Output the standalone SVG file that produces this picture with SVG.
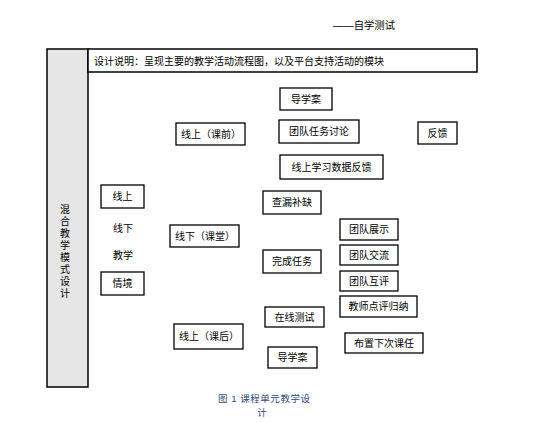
<svg xmlns="http://www.w3.org/2000/svg" width="536" height="422" viewBox="0 0 536 422">
<style>
text{font-family:"Liberation Sans","Noto Sans CJK SC",sans-serif;font-size:10px;fill:#000}
.n rect{fill:#fff;stroke:#000;stroke-width:1.3}
.n text{text-anchor:middle;dominant-baseline:central}
.cap{fill:#2F4A80;font-size:9.5px}
</style>
<rect width="536" height="422" fill="#fff"/>
<text x="333" y="29" font-size="10" textLength="62" lengthAdjust="spacingAndGlyphs">——自学测试</text>
<g id="side">
<rect x="47" y="49" width="41" height="338" fill="#E6E6E6" stroke="#000" stroke-width="1.5"/>
<g font-size="10" text-anchor="middle">
<text x="65" y="213" text-anchor="middle">混</text>
<text x="65" y="225" text-anchor="middle">合</text>
<text x="65" y="237" text-anchor="middle">教</text>
<text x="65" y="249" text-anchor="middle">学</text>
<text x="65" y="261" text-anchor="middle">模</text>
<text x="65" y="273" text-anchor="middle">式</text>
<text x="65" y="285" text-anchor="middle">设</text>
<text x="65" y="297" text-anchor="middle">计</text>
</g>
</g>
<g id="header">
<rect x="88" y="49" width="389" height="23" fill="#fff" stroke="#000" stroke-width="1.5"/>
<text x="94" y="64.5">设计说明：呈现主要的教学活动流程图，以及平台支持活动的模块</text>
</g>
<g id="n1" class="n"><rect x="280" y="88" width="52" height="22"/><text x="306" y="99">导学案</text></g>
<g id="n2" class="n"><rect x="279" y="120" width="80" height="23"/><text x="319" y="131.5">团队任务讨论</text></g>
<g id="n3" class="n"><rect x="418" y="122" width="39" height="22"/><text x="437.5" y="133">反馈</text></g>
<g id="n4" class="n"><rect x="280" y="155" width="103" height="24"/><text x="331.5" y="167">线上学习数据反馈</text></g>
<g id="n5" class="n"><rect x="176" y="123" width="69" height="22"/><text x="211" y="134">线上（课前）</text></g>
<g id="n6" class="n"><rect x="101" y="185" width="43" height="23"/><text x="122.5" y="196.5">线上</text></g>
<g id="t1"><text x="123" y="228" text-anchor="middle" dominant-baseline="central">线下</text></g>
<g id="t2"><text x="123" y="255" text-anchor="middle" dominant-baseline="central">教学</text></g>
<g id="n7" class="n"><rect x="101" y="272" width="43" height="23"/><text x="122.5" y="283.5">情境</text></g>
<g id="n8" class="n"><rect x="170" y="225" width="69" height="22"/><text x="205" y="236">线下（课堂）</text></g>
<g id="n9" class="n"><rect x="263" y="191" width="58" height="23"/><text x="292" y="202.5">查漏补缺</text></g>
<g id="n10" class="n"><rect x="263" y="250" width="58" height="23"/><text x="292" y="261.5">完成任务</text></g>
<g id="n11" class="n"><rect x="340" y="219" width="58" height="21"/><text x="369" y="229.5">团队展示</text></g>
<g id="n12" class="n"><rect x="340" y="245" width="58" height="20"/><text x="369" y="255">团队交流</text></g>
<g id="n13" class="n"><rect x="340" y="271" width="58" height="20"/><text x="369" y="281">团队互评</text></g>
<g id="n14" class="n"><rect x="340" y="296" width="77" height="21"/><text x="378.5" y="306.5">教师点评归纳</text></g>
<g id="n15" class="n"><rect x="265" y="307" width="59" height="20"/><text x="294.5" y="317">在线测试</text></g>
<g id="n16" class="n"><rect x="174" y="324" width="69" height="25"/><text x="209" y="336.5">线上（课后）</text></g>
<g id="n17" class="n"><rect x="345" y="333" width="78" height="20"/><text x="384" y="343">布置下次课任</text></g>
<g id="n18" class="n"><rect x="268" y="347" width="49" height="21"/><text x="292.5" y="357.5">导学案</text></g>
<g id="connectors"></g>
<text class="cap" x="218" y="402" textLength="92" lengthAdjust="spacing">图 1 课程单元教学设</text>
<text class="cap" x="262" y="416" text-anchor="middle">计</text>
</svg>
